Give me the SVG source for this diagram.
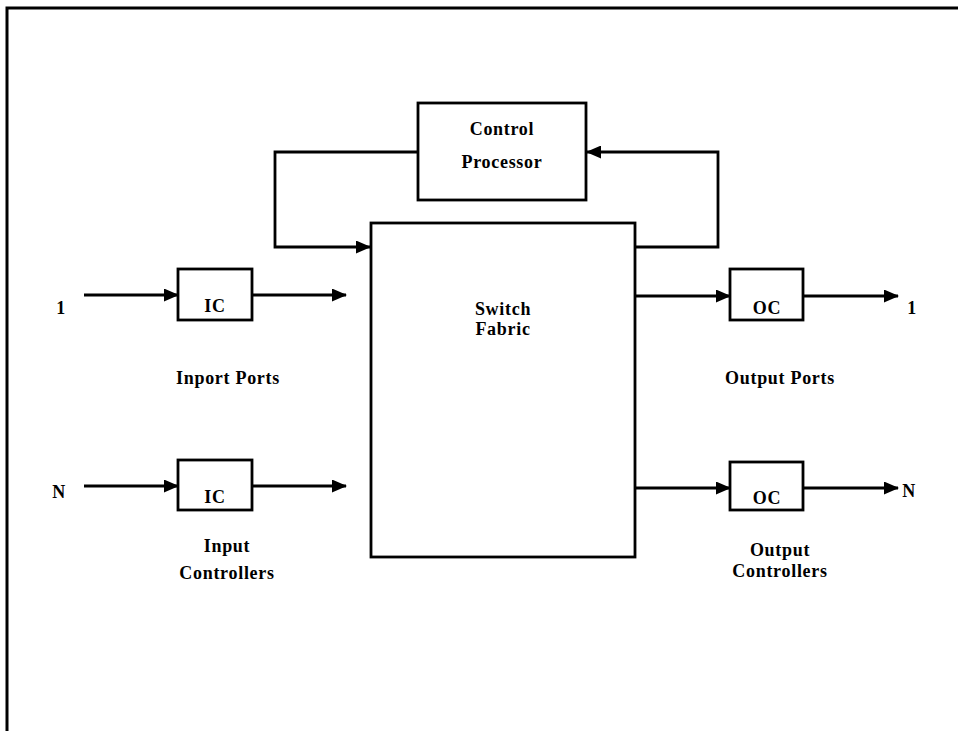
<svg xmlns="http://www.w3.org/2000/svg" width="958" height="731" viewBox="0 0 958 731">
<style>
.box{fill:#fff;stroke:#000;stroke-width:2.8}
.ln{fill:none;stroke:#000;stroke-width:2.8}
text{font-family:"Liberation Serif","Times New Roman",serif;font-weight:bold;font-size:18px;letter-spacing:0.7px;fill:#000;text-anchor:middle}
</style>
<defs>
<marker id="ah" markerWidth="15" markerHeight="13" refX="14" refY="6.5" orient="auto" markerUnits="userSpaceOnUse">
<path d="M0,0 L15,6.5 L0,13 Z" fill="#000"/>
</marker>
</defs>
<rect width="958" height="731" fill="#fff"/>
<path d="M7,731 L7,8 L958,8" fill="none" stroke="#000" stroke-width="3"/>
<g id="connectors">
<path class="ln" d="M418,152 L275,152 L275,247 L370,247" marker-end="url(#ah)"/>
<path class="ln" d="M635,247 L718,247 L718,152 L587,152" marker-end="url(#ah)"/>
<path class="ln" d="M84,295 L178,295" marker-end="url(#ah)"/>
<path class="ln" d="M252,295 L346,295" marker-end="url(#ah)"/>
<path class="ln" d="M84,486 L178,486" marker-end="url(#ah)"/>
<path class="ln" d="M252,486 L346,486" marker-end="url(#ah)"/>
<path class="ln" d="M635,296 L730,296" marker-end="url(#ah)"/>
<path class="ln" d="M803,296 L898,296" marker-end="url(#ah)"/>
<path class="ln" d="M635,488 L730,488" marker-end="url(#ah)"/>
<path class="ln" d="M803,488 L898,488" marker-end="url(#ah)"/>
</g>
<g id="control-processor">
<rect class="box" x="418" y="103" width="168" height="97"/>
<text x="502" y="135">Control</text>
<text x="502" y="168">Processor</text>
</g>
<g id="switch-fabric">
<rect class="box" x="371" y="223" width="264" height="334"/>
<text x="503" y="315">Switch</text>
<text x="503" y="335">Fabric</text>
</g>
<g id="ic1">
<rect class="box" x="178" y="269" width="74" height="51"/>
<text x="215" y="312">IC</text>
</g>
<g id="icN">
<rect class="box" x="178" y="460" width="74" height="50"/>
<text x="215" y="503">IC</text>
</g>
<g id="oc1">
<rect class="box" x="730" y="269" width="73" height="51"/>
<text x="767" y="314">OC</text>
</g>
<g id="ocN">
<rect class="box" x="730" y="462" width="73" height="48"/>
<text x="767" y="504">OC</text>
</g>
<g id="labels">
<text x="61" y="314">1</text>
<text x="59" y="498">N</text>
<text x="912" y="314">1</text>
<text x="909" y="497">N</text>
<text x="228" y="384">Inport Ports</text>
<text x="780" y="384">Output Ports</text>
<text x="227" y="552">Input</text>
<text x="227" y="579">Controllers</text>
<text x="780" y="556">Output</text>
<text x="780" y="577">Controllers</text>
</g>
</svg>
